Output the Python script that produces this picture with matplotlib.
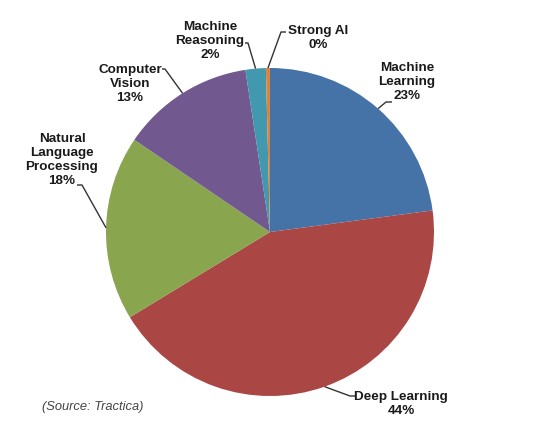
import numpy as np
import matplotlib
matplotlib.use("Agg")
import matplotlib.pyplot as plt

# ---- data ----
categories = ["Machine\nLearning", "Deep Learning", "Natural\nLanguage\nProcessing",
              "Computer\nVision", "Machine\nReasoning", "Strong AI"]
shares = [22.9, 43.4, 18.2, 13.1, 2.0, 0.4]
pct_labels = ["23%", "44%", "18%", "13%", "2%", "0%"]
colors = ["#4572A7", "#AA4643", "#89A54E", "#71588F", "#4198AF", "#DB843D"]

W, H = 558, 429
CX, CY, R = 270, 232, 164  # pixel layout of the pie

fig = plt.figure(figsize=(W / 100, H / 100), dpi=100)
ax = fig.add_axes([0, 0, 1, 1])

wedges, _ = ax.pie(shares, colors=colors, startangle=90, counterclock=False,
                   radius=1.0, center=(0, 0), frame=True,
                   wedgeprops=dict(linewidth=0))
ax.set_xlim(-CX / R, (W - CX) / R)
ax.set_ylim(-(H - CY) / R, CY / R)
ax.set_aspect("auto")
ax.axis("off")


def px(x, y):
    return (x - CX) / R, (CY - y) / R


# label text centre (px) and leader (elbow px, label-end px)
label_pos = [(407, 82), (401, 404), (62, 160), (130, 84), (210, 41), (318, 38)]
leaders = [
    [(386, 102), (392, 102)],
    [(350, 396), (355, 396)],
    [(82, 185), (77, 185)],
    [(165, 69), (162, 69)],
    [(248, 43), (245, 43)],
    [(281, 32), (286, 32)],
]

font = dict(family=["Liberation Sans", "DejaVu Sans"], fontsize=9.7,
            fontweight="bold", color="#1a1a1a")

for w, cat, pct, (lx, ly), ld in zip(wedges, categories, pct_labels, label_pos, leaders):
    txt = cat + "\n" + pct
    tx, ty = px(lx, ly)
    ax.text(tx, ty, txt, ha="center", va="center", linespacing=1.2, **font)
    mid = np.deg2rad((w.theta1 + w.theta2) / 2)
    ex, ey = np.cos(mid) * w.r, np.sin(mid) * w.r
    pts = [(ex, ey)] + [px(*p) for p in ld]
    xs, ys = zip(*pts)
    ax.plot(xs, ys, color="#333333", linewidth=1.0, solid_capstyle="butt")

sx, sy = px(93, 407)
ax.text(sx, sy, "(Source: Tractica)", ha="center", va="center",
        family=["Liberation Sans", "DejaVu Sans"], fontsize=9.3,
        style="italic", color="#444444")

fig.savefig("out.png", dpi=100, facecolor="white")
